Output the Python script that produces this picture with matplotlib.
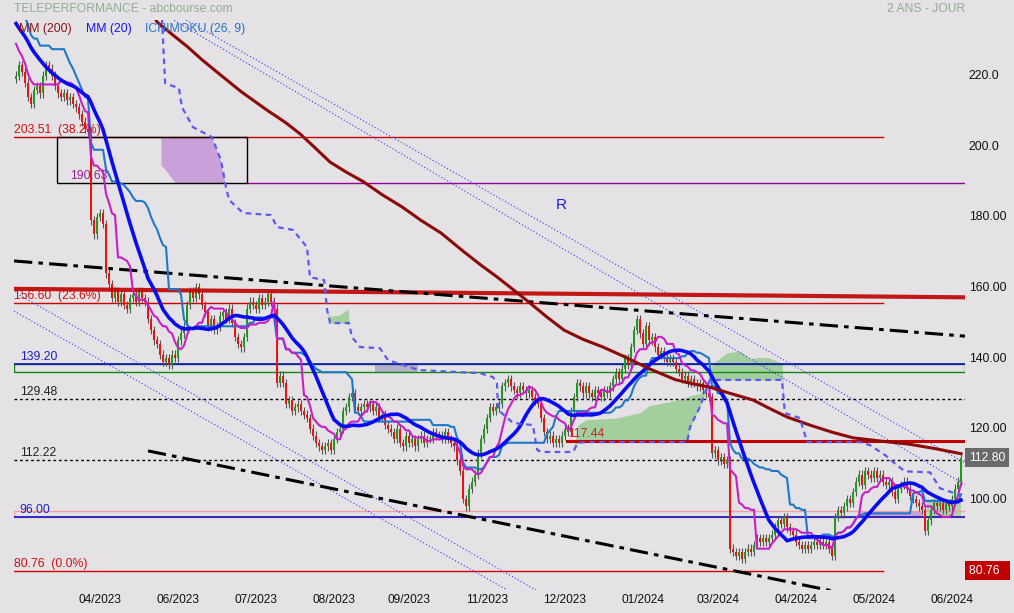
import numpy as np
import pandas as pd
import matplotlib
matplotlib.use('Agg')
import matplotlib.pyplot as plt
from matplotlib.patches import Rectangle
from matplotlib.transforms import blended_transform_factory

plt.rcParams['font.family'] = ['Liberation Sans', 'DejaVu Sans']

BG = '#e4e2e5'

# daily closes before the visible window (warm-up for MM20 / Ichimoku)
pre_closes = [240, 245, 250, 254, 256, 252, 248, 250, 246, 243,
              244, 246, 243, 240, 238, 241, 244, 240,
              236, 233, 230, 228, 226, 224, 222, 220]

# daily closes of the visible window
closes = [221, 224, 222, 219, 215, 213, 217, 218, 216, 221,
          224, 223, 221, 218, 216, 215, 216, 214, 215, 213,
          212, 210, 208, 206, 205, 180, 176, 181, 182, 179,
          165, 162, 158, 160, 157, 159, 156, 155, 158, 159,
          157, 160, 158, 157, 152, 149, 146, 145, 142, 140,
          141, 139, 142, 141, 146, 148, 150, 156, 160, 158,
          161, 159, 156, 154, 150, 152, 149, 150, 153, 154,
          152, 155, 151, 147, 145, 144, 147, 155, 157, 156,
          155, 158, 156, 157, 159, 157, 155, 134, 136, 134,
          128, 129, 126, 127, 128, 126, 125, 124, 121, 119,
          117, 116, 115, 116, 117, 115, 118, 120, 121, 126,
          127, 130, 131, 127, 126, 127, 128, 127, 128, 126,
          127, 124, 125, 122, 121, 120, 118, 121, 117, 116,
          119, 117, 118, 116, 118, 119, 117, 118, 118, 120,
          119, 119, 118, 120, 118, 117, 116, 112, 109, 101,
          99, 104, 106, 108, 114, 118, 121, 124, 127, 126,
          127, 128, 133, 134, 135, 133, 132, 131, 133, 132,
          131, 132, 130, 129, 128, 124, 120, 118, 119, 117,
          118, 117, 119, 121, 120, 126, 130, 134, 133, 131,
          133, 131, 130, 132, 131, 130, 132, 131, 133, 135,
          137, 135, 138, 141, 139, 144, 149, 152, 148, 145,
          150, 146, 147, 144, 142, 143, 141, 140, 141, 140,
          138, 137, 135, 136, 134, 135, 134, 133, 134, 132,
          131, 130, 114, 115, 112, 113, 111, 112, 87, 86,
          85, 86, 84, 86, 87, 86, 88, 90, 89, 90,
          89, 90, 91, 93, 95, 94, 96, 93, 92, 91,
          89, 88, 87, 88, 87, 88, 89, 88, 89, 88,
          89, 87, 85, 96, 98, 97, 99, 101, 100, 103,
          106, 108, 105, 109, 108, 107, 109, 107, 108, 106,
          105, 106, 103, 101, 104, 105, 106, 104, 102, 101,
          100, 99, 98, 92, 95, 98, 100, 99, 100, 98,
          100, 99, 101, 104, 106, 112.8]

x_ticks = [28, 54, 80, 106, 131, 157, 183, 209, 234, 260, 286, 312]
x_labels = ['04/2023', '06/2023', '07/2023', '08/2023', '09/2023', '11/2023',
            '12/2023', '01/2024', '03/2024', '04/2024', '05/2024', '06/2024']
y_ticks = [220, 200, 180, 160, 140, 120, 100]
y_labels = ['220.0', '200.0', '180.00', '160.00', '140.00', '120.00', '100.00']

# MM(200)
mm200_bars = [44.5, 47, 52.3, 57, 62, 67.3, 75, 83.7, 89.7, 94.7, 100, 104.7, 110,
              115.7, 122, 128.7, 135, 141.7, 149, 155, 160.3, 166, 171.3, 177,
              182.7, 189, 195.7, 203, 211, 219.7, 225, 231, 238, 245.7, 251, 257,
              265, 272, 279, 288, 297.7, 306, 315]
mm200_vals = [240.5, 236.2, 232.5, 229.3, 225.5, 221.8, 216.5, 211.2, 207.8, 204.5,
              200.3, 196.5, 193.7, 191.0, 187.3, 183.8, 180.0, 176.4, 171.3, 167.3,
              164.0, 160.2, 156.6, 152.6, 148.9, 146.3, 144.1, 141.3, 138.0, 134.9,
              133.8, 132.8, 131.0, 129.1, 126.8, 124.3, 121.9, 120.0, 118.4, 117.5,
              116.6, 115.4, 113.9]

# Ichimoku cloud: dashed span and the other span bounding the fill
cloud_bars = [48.5, 49.7, 51.7, 54.3, 55.3, 59, 65.3, 68.3, 70, 71, 75.7, 85, 87,
              92.3, 97, 98, 102.7, 103.7, 104.7, 108, 110.7, 111, 112, 114.7,
              121.3, 124, 134.3, 154.7, 159, 160.3, 160.7, 165.7, 172.3, 173.7,
              175, 185.7, 187.3, 190, 200, 208, 211, 217, 222.3, 223.7, 224.7,
              228, 230, 231.3, 232.3, 237, 241.3, 244.7, 248, 251.3, 255.3, 256.3,
              261.3, 263.7, 281.3, 284.7, 289.7, 293.7, 296.3, 304.7, 308, 315]
cloud_dashed = [240, 218.9, 218.2, 217.5, 212.1, 206.4, 203.6, 197.1, 189.4, 185.8,
                182.1, 181.5, 178.1, 177.3, 172.4, 163.9, 163.1, 154.6, 150.9, 150.9,
                150.9, 150.9, 146.9, 144.1, 143.8, 140.4, 137.6, 136.7, 135.6, 133.9,
                126.3, 122.6, 122.0, 115.0, 114.4, 114.4, 117.0, 117.2, 117.2, 117.2,
                117.2, 117.2, 117.2, 117.2, 121.5, 127.2, 131.8, 134.8, 134.8, 134.8,
                134.8, 134.8, 134.8, 134.8, 134.8, 125.4, 124.0, 117.2, 117.2, 116.3,
                113.5, 110.6, 108.9, 108.6, 104.1, 102.1]
cloud_other = [195.5, 194.5, 192.2, 189.5, 188.5, 187.0, 186.5, 187.5, 189.4, 185.8,
               182.1, 181.5, 178.1, 177.3, 172.4, 163.9, 163.1, 154.6, 152.8, 153.2,
               155.0, 150.9, 146.9, 144.1, 143.8, 140.4, 137.6, 136.7, 135.6, 133.9,
               126.3, 122.6, 122.0, 115.0, 114.4, 114.4, 122.0, 123.5, 124.0, 125.5,
               127.5, 128.5, 129.5, 130.0, 130.3, 131.0, 133.0, 137.0, 139.5, 142.5,
               143.0, 140.8, 141.2, 141.0, 139.5, 125.4, 124.0, 117.2, 117.2, 116.3,
               113.5, 110.6, 108.9, 108.6, 104.1, 102.1]

# --- indicators from the daily series
all_c = pd.Series(pre_closes + closes, dtype=float)
all_o = all_c.shift(1).fillna(all_c.iloc[0])
all_h = np.maximum(all_o, all_c) + 1.2
all_l = np.minimum(all_o, all_c) - 1.2
bars_all = np.arange(len(all_c)) - len(pre_closes)

mm20 = all_c.rolling(20).mean()
tenkan = (all_h.rolling(9).max() + all_l.rolling(9).min()) / 2
kijun = (all_h.rolling(26).max() + all_l.rolling(26).min()) / 2

vis = bars_all >= 0
bx = bars_all[vis]
o = all_o[vis].values
c = all_c[vis].values
h = all_h[vis].values
l = all_l[vis].values

fig = plt.figure(figsize=(10.14, 6.13), dpi=100, facecolor=BG)
ax = fig.add_axes([14 / 1014, 23 / 613, 951 / 1014, 570 / 613])
ax.set_facecolor(BG)
ax.set_xlim(-0.67, 316.33)
ax.set_ylim(75.29, 236.76)
ax.set_axis_off()
x0, x1 = ax.get_xlim()

# cloud
cb = np.array(cloud_bars)
cd = np.array(cloud_dashed)
co = np.array(cloud_other)
ax.fill_between(cb, cd, co, where=co >= cd, interpolate=True, color='#a3cf9f', lw=0, zorder=1)
purple = ax.fill_between(cb, cd, co, where=cd >= co, interpolate=True, color='#c9a0da', lw=0, zorder=1)
box = Rectangle((13.7, 190.63), 77 - 13.7, 203.51 - 190.63, fill=False, ec='black', lw=1, zorder=3)
ax.add_patch(box)
purple.set_clip_path(box)

# shaded zones
ax.fill_between([119.7, 134], 137.1, 139.2, color='#b5afc9', lw=0, zorder=1)
ax.fill_between([281.3, 302.3], 96.0, 97.8, color='#c9a0da', lw=0, zorder=1)
ax.fill_between([303.5, 315], 96.0, 101.0, color='#a3cf9f', alpha=0.8, lw=0, zorder=1)

# horizontal levels
fib_levels = [203.51, 156.60, 80.76]
fib_labels = ['203.51  (38.2%)', '156.60  (23.6%)', '80.76  (0.0%)']
for lv, lb in zip(fib_levels, fib_labels):
    ax.plot([x0, 289], [lv, lv], color='#cc0000', lw=1, zorder=2)
    ax.text(x0, lv + 0.3, lb, color='#cc1111', fontsize=8.8, va='bottom', ha='left', zorder=6)

ax.plot([77, x1], [190.63, 190.63], color='#990099', lw=1, zorder=2)
ax.text(18, 190.63 + 0.3, '190.63', color='#992299', fontsize=8.8, va='bottom', zorder=6)

ax.add_patch(Rectangle((x0, 137.1), x1 - x0, 139.2 - 137.1, fill=False, ec='#118811', lw=1, zorder=2))
ax.plot([x0, x1], [139.2, 139.2], color='#1010c0', lw=1.2, zorder=2)
ax.text(1.3, 139.2 + 0.3, '139.20', color='#2020c0', fontsize=8.8, va='bottom', zorder=6)

ax.add_patch(Rectangle((x0, 96.0), x1 - x0, 97.8 - 96.0, fill=False, ec='#f0a0a0', lw=1, zorder=2))
ax.plot([x0, x1], [96.0, 96.0], color='#1010c0', lw=1.2, zorder=2)
ax.text(1.0, 96.0 + 0.3, '96.00', color='#2020d0', fontsize=8.8, va='bottom', zorder=6)

for lv, lb in zip([129.48, 112.22], ['129.48', '112.22']):
    ax.plot([x0, x1], [lv, lv], color='black', lw=1, ls=(0, (2, 2)), zorder=2)
    ax.text(1.3, lv + 0.3, lb, color='#222222', fontsize=8.8, va='bottom', zorder=6)

ax.plot([183.7, x1], [117.44, 117.44], color='#c00000', lw=2.2, zorder=4)
ax.text(184, 117.44 + 0.4, '117.44', color='#cc2222', fontsize=8.8, va='bottom', zorder=6)

# trend lines
ax.plot([x0, x1], [160.6, 158.2], color='#c00000', lw=3, alpha=0.9, zorder=4)
ax.plot([x0, x1], [168.5, 147.2], color='black', lw=2.2, ls=(0, (6, 2, 1.5, 2)), zorder=4)
ax.plot([44, 272.3], [114.7, 75.0], color='black', lw=2.2, ls=(0, (6, 2, 1.5, 2)), zorder=4)
for xs, ys in [([50, 316.3], [240.0, 111.3]), ([46, 316.3], [240.0, 105.1]),
               ([x0, 163.7], [154.3, 75.3]), ([1.3, 173.3], [158.8, 75.3])]:
    ax.plot(xs, ys, color='#3535f0', lw=0.8, ls=(0, (1, 2)), zorder=2)

# candles
up = c >= o
ax.vlines(bx, l, h, color='#555555', lw=0.8, zorder=3)
body_lo = np.minimum(o, c)
body_h = np.maximum(np.abs(c - o), 0.4)
ax.bar(bx[up], body_h[up], bottom=body_lo[up], width=0.85, color='#1f9a1f', lw=0, zorder=3)
ax.bar(bx[~up], body_h[~up], bottom=body_lo[~up], width=0.85, color='#e81414', lw=0, zorder=3)

# indicator lines
ax.plot(bx, kijun[vis], color='#1f78c8', lw=1.5, zorder=5)
ax.plot(bx, tenkan[vis], color='#c81ec8', lw=1.5, zorder=5)
ax.plot(bx, mm20[vis], color='#0b0bf0', lw=2.6, zorder=5)
ax.plot(mm200_bars, mm200_vals, color='#8b0a0a', lw=2.2, zorder=5)
ax.plot(cb, cd, color='#5a5af0', lw=1.6, ls=(0, (2.5, 2)), zorder=5)

ax.text(181.7, 184.3, 'R', color='#1a1ae0', fontsize=11, ha='center', va='center', zorder=6)

# axis labels drawn as text
ty = blended_transform_factory(ax.transAxes, ax.transData)
for v, lb in zip(y_ticks, y_labels):
    ax.text(1.004, v, lb, transform=ty, fontsize=8.8, color='#111111', ha='left',
            va='baseline', clip_on=False)
tx = blended_transform_factory(ax.transData, ax.transAxes)
for v, lb in zip(x_ticks, x_labels):
    ax.text(v, -0.018, lb, transform=tx, fontsize=8.6, color='#111111', ha='center',
            va='center', clip_on=False)

ax.text(1.004, closes[-1], '112.80', transform=ty, fontsize=8.8, color='white', ha='left',
        va='center', clip_on=False,
        bbox=dict(boxstyle='square,pad=0.3', fc='#6a6a6a', ec='none'))
ax.text(1.004, 80.76, '80.76  ', transform=ty, fontsize=8.8, color='white', ha='left',
        va='center', clip_on=False,
        bbox=dict(boxstyle='square,pad=0.3', fc='#c00000', ec='none'))

# header
fig.text(14 / 1014, 1 - 9 / 613, 'TELEPERFORMANCE - abcbourse.com', color='#8fae8f',
         fontsize=8.7, va='center', ha='left')
fig.text(965 / 1014, 1 - 9 / 613, '2 ANS - JOUR', color='#8fae8f', fontsize=8.7,
         va='center', ha='right')
fig.text(19 / 1014, 1 - 29 / 613, 'MM (200)', color='#8b1515', fontsize=8.8, va='center')
fig.text(86 / 1014, 1 - 29 / 613, 'MM (20)', color='#1515ee', fontsize=8.8, va='center')
fig.text(145 / 1014, 1 - 29 / 613, 'ICHIMOKU (26, 9)', color='#2a70c0', fontsize=8.8, va='center')

fig.savefig('out.png', dpi=100, facecolor=BG)
